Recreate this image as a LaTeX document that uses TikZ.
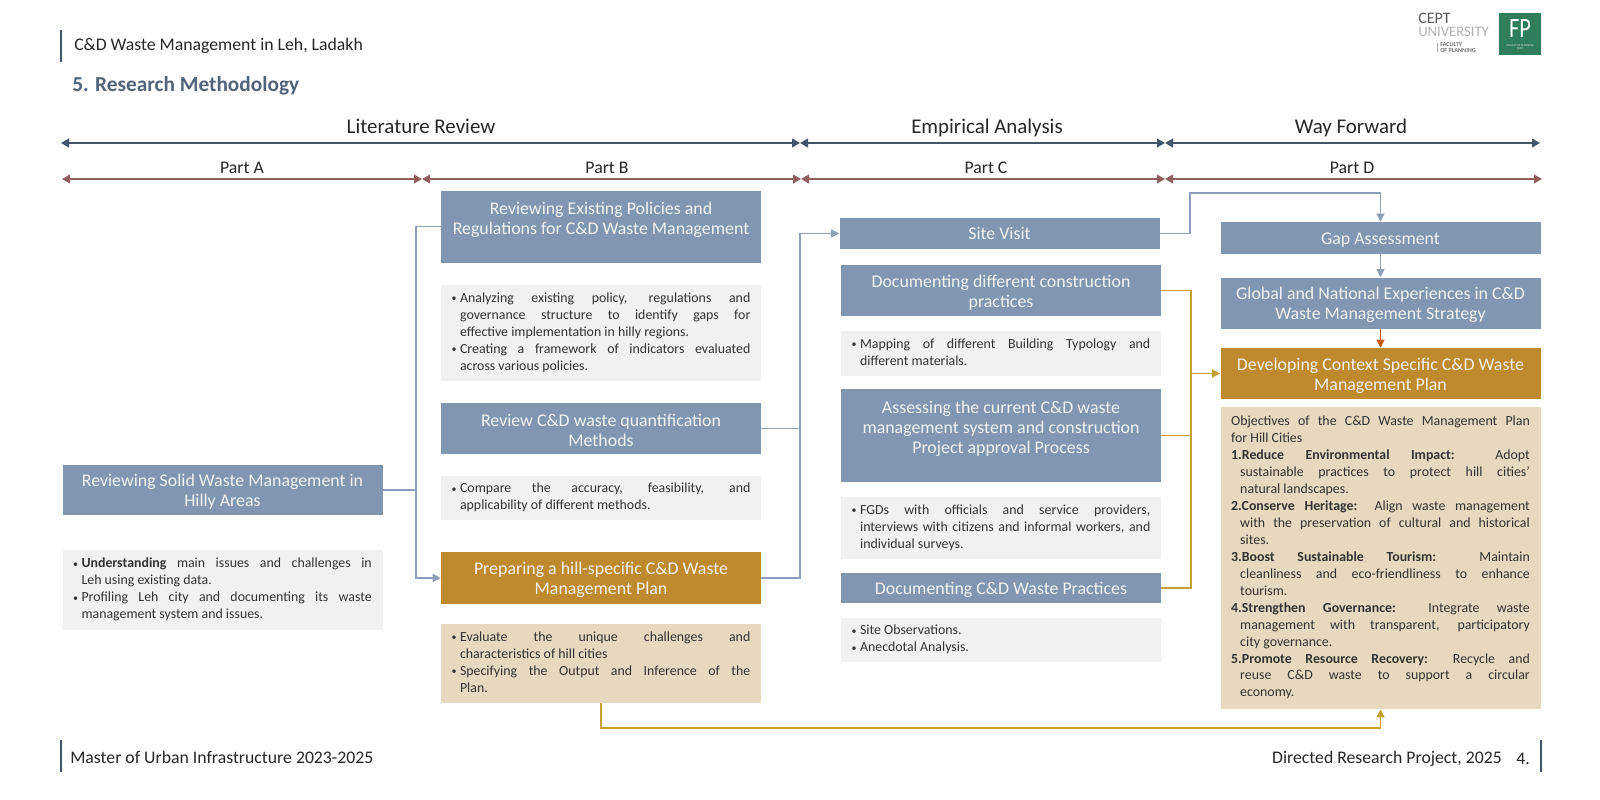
\documentclass[tikz,border=0pt]{standalone}
\usepackage{fontspec}
\setmainfont{Carlito}
\usetikzlibrary{arrows.meta,calc}
\definecolor{boxblue}{HTML}{8096B1}
\definecolor{boxgold}{HTML}{BF8A2E}
\definecolor{descgrey}{HTML}{F1F1F1}
\definecolor{desctan}{HTML}{E6D9BF}
\definecolor{navy}{HTML}{44546A}
\definecolor{maroon}{HTML}{8F5F5F}
\definecolor{lineblue}{HTML}{8EA0B8}
\definecolor{linegold}{HTML}{C4A030}
\definecolor{lineorange}{HTML}{C55A11}
\definecolor{titleblue}{HTML}{51637B}
\definecolor{fpgreen}{HTML}{2E7D5B}
\newdimen\dw
\dw=224pt
\newcommand{\bu}{\hbox to 6.3pt{\raisebox{0.6pt}{\fontsize{7.5pt}{7.5pt}\selectfont\textbullet}\hfil}}
\newcommand{\bl}[1]{\hbox to \dw{\strut\bu#1}}
\newcommand{\nl}[1]{\hbox to \dw{\strut\hskip 6.3pt #1}}
\newcommand{\ob}[1]{\hbox to \dw{\strut#1}}
\newcommand{\on}[1]{\hbox to \dw{\strut\hskip 6.8pt #1}}
\newcommand{\lines}[1]{\vbox{\lineskiplimit=-2pt\baselineskip=12.75pt #1}}
\newcommand{\tl}{\rule{0pt}{12.5pt}}
\tikzset{
  x=0.75pt,y=-0.75pt,
  hd/.style={fill=boxblue,text=white!95!black,minimum width=240pt,inner sep=0pt,align=center,
    font=\fontsize{13.4pt}{15pt}\selectfont,minimum height=#1*0.75pt},
  hds/.style={hd=#1,execute at begin node={\rule{0pt}{12.3pt}},execute at end node={\rule[-2.6pt]{0pt}{2.6pt}}},
  hdg/.style={hd=#1,fill=boxgold},
  desc/.style={fill=descgrey,text=black!80,minimum width=240pt,inner sep=0pt,
    font=\fontsize{10.4pt}{12.75pt}\selectfont,minimum height=#1*0.75pt},
  desct/.style={desc=#1,fill=desctan},
  lbl/.style={text=black!85,inner sep=0pt,anchor=base,font=\fontsize{13.3pt}{15pt}\selectfont},
  lblA/.style={lbl,font=\fontsize{15.7pt}{17pt}\selectfont},
  span/.style={{Triangle[length=6pt,width=6.5pt]}-{Triangle[length=6pt,width=6.5pt]},line width=1.5pt,navy},
  spanr/.style={span,maroon},
  conb/.style={lineblue,line width=0.8pt},
  cong/.style={linegold,line width=0.8pt},
  tip/.style={-{Triangle[length=6pt,width=6pt]}},
  sidebar/.style={fill=navy,minimum width=2.2pt,minimum height=24pt,inner sep=0pt},
}
\begin{document}
\begin{tikzpicture}
\useasboundingbox (0,0) rectangle (1600,800);
% page furniture
\node[sidebar] (barTL) at (61,46) {};
\node[lbl,anchor=base west] (hdr) at (74,50.5) {C\&D Waste Management in Leh, Ladakh};
\node[lbl,anchor=base west,text=titleblue,font=\fontsize{16pt}{17pt}\selectfont\bfseries] (ttl) at (72,91) {5. Research Methodology};
\node[sidebar] (barBL) at (61,756) {};
\node[lbl,anchor=base west] (ftl) at (70,763.5) {Master of Urban Infrastructure 2023-2025};
\node[sidebar] (barBR) at (1541,756) {};
\node[lbl,anchor=base east] (ftr) at (1502,763) {Directed Research Project, 2025};
\node[lbl,anchor=base east] (pg) at (1530,764) {4.};
% logo
\node[anchor=west,inner sep=0pt,text=black!65,font=\fontsize{12pt}{12pt}\selectfont] (cept) at (1418,18) {CEPT};
\node[anchor=west,inner sep=0pt,text=black!30,font=\fontsize{11pt}{12pt}\selectfont] (univ) at (1418,31.5) {UNIVERSITY};
\node[anchor=west,inner sep=0pt,text=black!55,align=left,font=\fontsize{4.6pt}{4.8pt}\selectfont\bfseries] (fac) at (1440,47.5) {FACULTY\\OF PLANNING};
\fill[black!35] (1437,43) rectangle (1437.8,52);
\node[fill=fpgreen,minimum width=31.5pt,minimum height=31.5pt,inner sep=0pt] (fpb) at (1520,34) {};
\node[text=white,inner sep=0pt,xscale=0.8,font=\fontsize{21pt}{21pt}\selectfont] (fp) at (1520,29) {FP};
\node[text=white!85!fpgreen,inner sep=0pt,align=center,font=\fontsize{2.2pt}{2.6pt}\selectfont] (fpt) at (1520,47) {FACULTY OF PLANNING\\CEPT};
% span labels
\node[lblA] (lr) at (421,133) {Literature Review};
\node[lblA] (ea) at (987,133) {Empirical Analysis};
\node[lblA] (wf) at (1351,133) {Way Forward};
\node[lbl] (pa) at (242,173) {Part A};
\node[lbl] (pb) at (607,173) {Part B};
\node[lbl] (pc) at (986,173) {Part C};
\node[lbl] (pd) at (1352,173) {Part D};
% span ends
\coordinate (s0) at (61,143); \coordinate (s1) at (800,143); \coordinate (s2) at (1165,143); \coordinate (s3) at (1540,143);
\coordinate (t0) at (62,179); \coordinate (t1) at (422,179); \coordinate (t2) at (801,179); \coordinate (t3) at (1165,179); \coordinate (t4) at (1542,179);
\draw[span] (s0)--(s1); \draw[span] (s1)--(s2); \draw[span] (s2)--(s3);
\draw[spanr] (t0)--(t1); \draw[spanr] (t1)--(t2); \draw[spanr] (t2)--(t3); \draw[spanr] (t3)--(t4);
% Part A
\node[hd=50] (a1) at (222.5,490) {\tl Reviewing Solid Waste Management in\\Hilly Areas};
\node[desc=80] (a1d) at (222.5,590) {\lines{
  \bl{\textbf{Understanding} main issues and challenges in}
  \nl{Leh using existing data.\hfil}
  \bl{Profiling Leh city and documenting its waste}
  \nl{management system and issues.\hfil}}};
% Part B
\node[hd=72] (b1) at (601,226.5) {\tl Reviewing Existing Policies and\\Regulations for C\&D Waste Management\\\mbox{}};
\node[desc=96] (b1d) at (601,333) {\lines{
  \bl{Analyzing existing policy, regulations and}
  \nl{governance structure to identify gaps for}
  \nl{effective implementation in hilly regions.\hfil}
  \bl{Creating a framework of indicators evaluated}
  \nl{across various policies.\hfil}}};
\node[hd=51] (b2) at (601,428.5) {\tl Review C\&D waste quantification\\Methods};
\node[desc=44] (b2d) at (601,498) {\lines{
  \bl{Compare the accuracy, feasibility, and}
  \nl{applicability of different methods.\hfil}}};
\node[hdg=52] (b3) at (601,578) {\tl Preparing a hill-specific C\&D Waste\\Management Plan};
\node[desct=79] (b3d) at (601,663.5) {\lines{
  \bl{Evaluate the unique challenges and}
  \nl{characteristics of hill cities\hfil}
  \bl{Specifying the Output and Inference of the}
  \nl{Plan.\hfil}}};
% Part C
\node[hds=31] (c1) at (999.5,233.5) {Site Visit};
\node[hd=51] (c2) at (1001,290.5) {\tl Documenting different construction\\practices};
\node[desc=45] (c2d) at (1001,353.5) {\lines{
  \bl{Mapping of different Building Typology and}
  \nl{different materials.\hfil}}};
\node[hd=93] (c3) at (1001,435.5) {\tl Assessing the current C\&D waste\\management system and construction\\Project approval Process\\\mbox{}};
\node[desc=62] (c3d) at (1001,528) {\lines{
  \bl{FGDs with officials and service providers,}
  \nl{interviews with citizens and informal workers, and}
  \nl{individual surveys.\hfil}}};
\node[hds=30] (c4) at (1001,588) {Documenting C\&D Waste Practices};
\node[desc=44] (c4d) at (1001,640) {\lines{
  \bl{Site Observations.\hfil}
  \bl{Anecdotal Analysis.\hfil}}};
% Part D
\node[hds=32] (d1) at (1380.5,238) {Gap Assessment};
\node[hd=51] (d2) at (1380.5,303) {\tl Global and National Experiences in C\&D\\Waste Management Strategy};
\node[hdg=51] (d3) at (1380.5,373.5) {\tl Developing Context Specific C\&D Waste\\Management Plan};
\node[desct=302] (d3d) at (1380.5,558) {\lines{\baselineskip=12.7pt
  \ob{Objectives of the C\&D Waste Management Plan}
  \ob{for Hill Cities\hfil}
  \ob{\textbf{1.Reduce Environmental Impact:} Adopt}
  \on{sustainable practices to protect hill cities'}
  \on{natural landscapes.\hfil}
  \ob{\textbf{2.Conserve Heritage:} Align waste management}
  \on{with the preservation of cultural and historical}
  \on{sites.\hfil}
  \ob{\textbf{3.Boost Sustainable Tourism:} Maintain}
  \on{cleanliness and eco-friendliness to enhance}
  \on{tourism.\hfil}
  \ob{\textbf{4.Strengthen Governance:} Integrate waste}
  \on{management with transparent, participatory}
  \on{city governance.\hfil}
  \ob{\textbf{5.Promote Resource Recovery:} Recycle and}
  \on{reuse C\&D waste to support a circular}
  \on{economy.\hfil}}};
% connectors
\coordinate (jA) at (416,490);
\draw[conb] (a1.east) -- (jA);
\draw[conb] (b1.west) -| (jA);
\draw[conb,tip] (jA) |- (b3.west);
\coordinate (jB) at (800,428.5);
\draw[conb] (b2.east) -- (jB);
\draw[conb,tip] (b3.east) -| (jB) |- (c1.west);
\coordinate (jC) at (1190,193);
\draw[conb,tip] (c1.east) -| (jC) -| (d1.north);
\draw[conb,tip] (d1.south) -- (d2.north);
\draw[lineorange,line width=0.8pt,tip] (d2.south) -- (d3.north);
\coordinate (jD) at (1191,373.5);
\draw[cong] (c2.east) -| (jD);
\draw[cong] (c3.east) -| (jD);
\draw[cong] (c4.east) -| (jD);
\draw[cong,tip,line width=1.2pt] (jD) -- (d3.west);
\coordinate (jE) at (601,728);
\draw[cong,tip] (b3d.south) -- (jE) -| (d3d.south);
\end{tikzpicture}
\end{document}
